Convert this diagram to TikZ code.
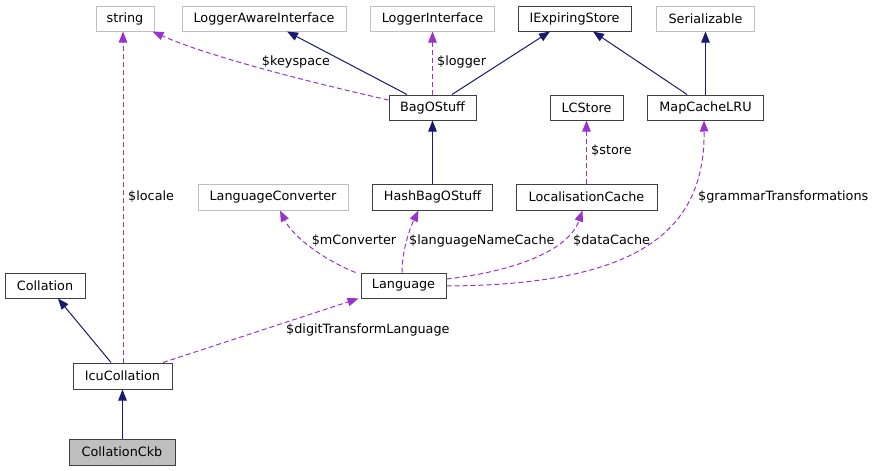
\documentclass[tikz,border=0pt]{standalone}
\usepackage{fontspec}
\setmainfont{DejaVu Sans}
\usetikzlibrary{arrows.meta}
\definecolor{inh}{HTML}{191970}
\definecolor{usage}{HTML}{9A32CD}
\definecolor{extb}{HTML}{BFBFBF}
\definecolor{docb}{HTML}{404040}
\definecolor{selfill}{HTML}{BFBFBF}
\tikzset{
  cls/.style={draw=docb, line width=1pt, inner sep=0pt, minimum height=25pt, font=\fontsize{12.8}{14}\selectfont, text=black},
  ext/.style={cls, draw=extb},
  inhline/.style={draw=inh, line width=1pt, -{Triangle[length=11pt,width=8.5pt]}},
  useline/.style={draw=usage, line width=1pt, dash pattern=on 5pt off 3pt, -{Triangle[length=11pt,width=8.5pt]}},
  lbl/.style={font=\fontsize{12.8}{14}\selectfont, text=black, inner sep=0pt}
}
\begin{document}
\begin{tikzpicture}[x=1pt,y=-1pt]
\useasboundingbox (0,0) rectangle (876,471);
% row 1
\node[ext, minimum width=58pt] (string) at (125,18.5) {string};
\node[ext, minimum width=164pt] (lai) at (264,18.5) {LoggerAwareInterface};
\node[ext, minimum width=124pt] (li) at (432.5,18.5) {LoggerInterface};
\node[cls, minimum width=113pt] (ies) at (574.5,18.5) {IExpiringStore};
\node[ext, minimum width=98pt] (ser) at (705.5,18.5) {Serializable};
% row 2
\node[cls, minimum width=87pt] (bag) at (432.5,107.5) {BagOStuff};
\node[cls, minimum width=73pt] (lcs) at (586.5,107.5) {LCStore};
\node[cls, minimum width=116pt] (mcl) at (705.5,107.5) {MapCacheLRU};
% row 3
\node[ext, minimum width=150pt, minimum height=26pt] (lconv) at (273,197) {LanguageConverter};
\node[cls, minimum width=120pt, minimum height=26pt] (hbag) at (432.5,197) {HashBagOStuff};
\node[cls, minimum width=141pt, minimum height=26pt] (lcache) at (586.5,197) {LocalisationCache};
% row 4
\node[cls, minimum width=80pt] (coll) at (45,285.5) {Collation};
\node[cls, minimum width=85pt] (lang) at (403.5,285.5) {Language};
% row 5
\node[cls, minimum width=99pt, minimum height=26pt] (icu) at (122.5,376) {IcuCollation};
\node[cls, minimum width=106pt, minimum height=26pt, fill=selfill] (ckb) at (122,452) {CollationCkb};

% inheritance
\draw[inhline] ([xshift=-25.5pt]bag.north) -- ([xshift=23pt]lai.south);
\draw[inhline] ([xshift=19.5pt]bag.north) -- ([xshift=-24.5pt]ies.south);
\draw[inhline] ([xshift=-18.5pt]mcl.north) -- ([xshift=18.5pt]ies.south);
\draw[inhline] (mcl.north) -- (ser.south);
\draw[inhline] (hbag.north) -- (bag.south);
\draw[inhline] ([xshift=-11.5pt]icu.north) -- ([xshift=13pt]coll.south);
\draw[inhline] ([xshift=0.5pt]ckb.north) -- ([xshift=0.5pt]ckb.north |- icu.south);

% usage
\draw[useline] ([yshift=7.5pt]bag.west) .. controls (300,80) and (205,55) .. ([xshift=-2pt]string.south east);
\node[lbl] (l_key) at (296,62) {\$keyspace};
\draw[useline] (bag.north) -- (li.south);
\node[lbl, anchor=west] (l_log) at (437,62) {\$logger};
\draw[useline] (lcache.north) -- (lcs.south);
\node[lbl, anchor=west] (l_store) at (591,151) {\$store};
\draw[useline] ([xshift=0.5pt]icu.north) -- ([xshift=0.5pt]icu.north |- string.south);
\node[lbl, anchor=west] (l_loc) at (128,197) {\$locale};
\draw[useline] ([xshift=-5pt]lang.north west) .. controls (320,258) and (292,235) .. ([xshift=7pt]lconv.south);
\node[lbl] (l_mc) at (354,241) {\$mConverter};
\draw[useline] ([xshift=-1.5pt]lang.north) .. controls (402,250) and (410,228) .. ([xshift=-14pt]hbag.south);
\node[lbl, anchor=west] (l_lnc) at (409,241) {\$languageNameCache};
\draw[useline] ([yshift=6.5pt]lang.east) .. controls (510,272) and (568,252) .. ([xshift=-4pt]lcache.south);
\node[lbl, anchor=west] (l_dc) at (573,241) {\$dataCache};
\draw[useline] ([yshift=-0.5pt]lang.east) .. controls (640,285) and (705,230) .. ([xshift=-1.5pt]mcl.south);
\node[lbl, anchor=west] (l_gt) at (698,197) {\$grammarTransformations};
\draw[useline] ([xshift=40.5pt]icu.north) -- ([xshift=-2pt]lang.south west);
\node[lbl, anchor=west] (l_dtl) at (286,330) {\$digitTransformLanguage};
\end{tikzpicture}
\end{document}
